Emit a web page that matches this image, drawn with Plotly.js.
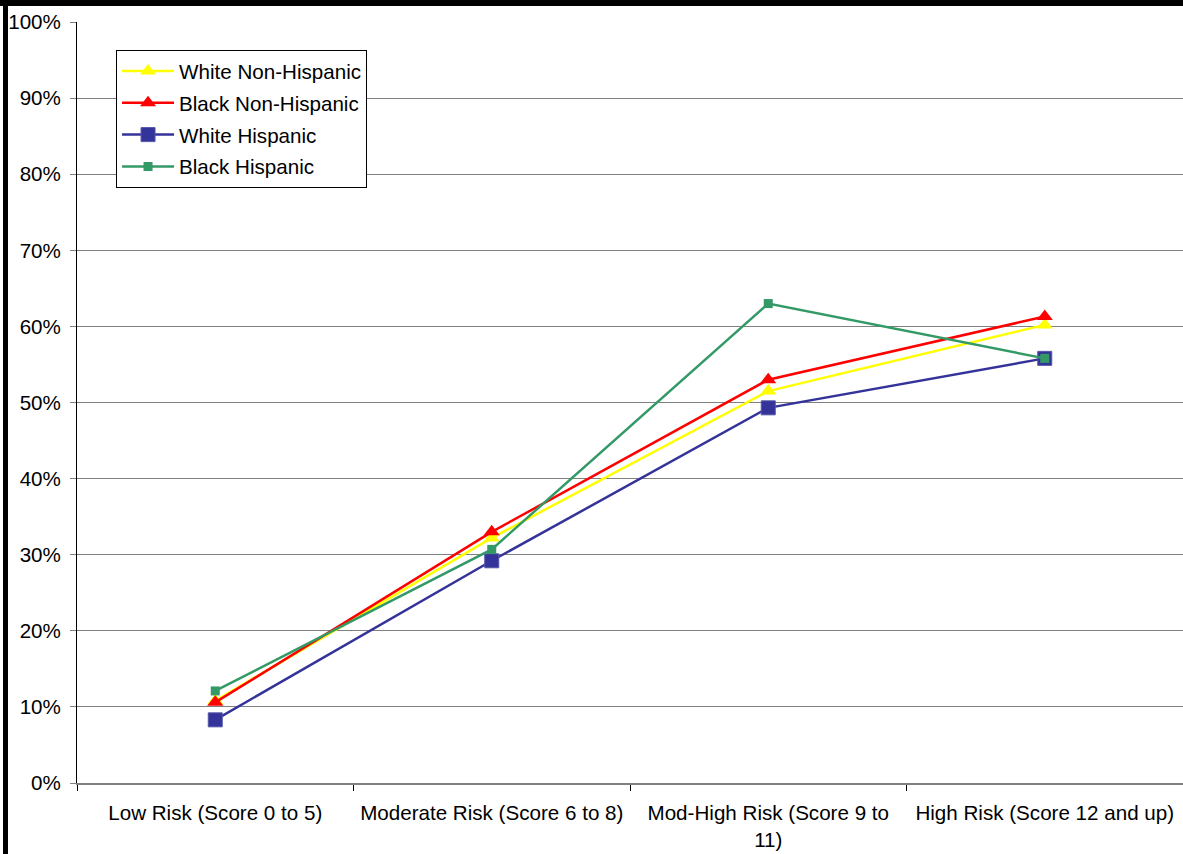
<!DOCTYPE html>
<html>
<head>
<meta charset="utf-8">
<script src="https://cdn.plot.ly/plotly-3.0.1.min.js"></script>
<style>
html,body{margin:0;padding:0;background:#fff;overflow:hidden;}
#wrap{position:relative;width:1183px;height:854px;}
#chart{position:absolute;left:0;top:0;width:1183px;height:854px;}
.bar-top{position:absolute;left:0;top:0;width:1183px;height:6px;background:#000;}
.bar-left{position:absolute;left:3px;top:0;width:5px;height:854px;background:#000;}
</style>
</head>
<body>
<div id="wrap">
<div id="chart"></div>
<div class="bar-top"></div>
<div class="bar-left"></div>
</div>
<script>
const categories = [
  "Low Risk (Score 0 to 5)",
  "Moderate Risk (Score 6 to 8)",
  "Mod-High Risk (Score 9 to<br>11)",
  "High Risk (Score 12 and up)"
];
const whiteNonHispanic = [0.108, 0.322, 0.515, 0.602];
const blackNonHispanic = [0.106, 0.330, 0.530, 0.613];
const whiteHispanic    = [0.083, 0.292, 0.493, 0.558];
const blackHispanic    = [0.121, 0.307, 0.630, 0.558];
const yTicks = [0,0.1,0.2,0.3,0.4,0.5,0.6,0.7,0.8,0.9,1.0];
const yTickText = ["0%","10%","20%","30%","40%","50%","60%","70%","80%","90%","100%"];

const FONT = "Liberation Sans, Arial, sans-serif";
const FS = 20.6;

const traces = [
  {name:"White Non-Hispanic", legendgroup:"a", x:categories, y:whiteNonHispanic, type:"scatter", mode:"lines+markers",
   line:{color:"#FFFF00", width:2.5}, marker:{symbol:"triangle-up", size:14, color:"#FFFF00"}},
  {name:"Black Non-Hispanic", legendgroup:"b", x:categories, y:blackNonHispanic, type:"scatter", mode:"lines+markers",
   line:{color:"#FF0000", width:2.5}, marker:{symbol:"triangle-up", size:14, color:"#FF0000"}},
  {name:"White Hispanic", legendgroup:"c", x:categories, y:whiteHispanic, type:"scatter", mode:"lines+markers",
   line:{color:"#333399", width:2.5}, marker:{symbol:"square", size:14, color:"#333399", line:{color:"#5555aa", width:1}}},
  {name:"Black Hispanic", legendgroup:"d", x:categories, y:blackHispanic, type:"scatter", mode:"lines+markers",
   line:{color:"#339966", width:2.5}, marker:{symbol:"square", size:9, color:"#339966"}}
];

const layout = {
  width:1183, height:854,
  margin:{l:77, r:0, t:22, b:71},
  paper_bgcolor:"#fff", plot_bgcolor:"#fff",
  font:{family:FONT, size:FS, color:"#000"},
  showlegend:true,
  hovermode:false,
  legend:{x:0.0353, y:0.963, xanchor:"left", yanchor:"top",
          bgcolor:"#fff", bordercolor:"#000", borderwidth:1, itemwidth:52,
          font:{family:FONT, size:FS, color:"#000"}, tracegroupgap:2},
  xaxis:{type:"category", range:[-0.5, 3.5], autorange:false, showgrid:false, zeroline:false,
         showline:true, linecolor:"#808080", linewidth:2,
         ticks:"outside", tickson:"boundaries", ticklen:6, tickcolor:"#000", tickwidth:1,
         ticklabelstandoff:10,
         tickfont:{family:FONT, size:FS, color:"#000"}, automargin:false},
  yaxis:{range:[0,1], autorange:false, tickvals:yTicks, ticktext:yTickText,
         showgrid:true, gridcolor:"#808080", gridwidth:1, zeroline:false,
         showline:true, linecolor:"#000", linewidth:1,
         ticks:"outside", ticklen:6, tickcolor:"#808080", tickwidth:1,
         ticklabelstandoff:5,
         tickfont:{family:FONT, size:FS, color:"#000"}, automargin:false}
};

Plotly.newPlot("chart", traces, layout, {displayModeBar:false, staticPlot:true});
</script>
</body>
</html>
